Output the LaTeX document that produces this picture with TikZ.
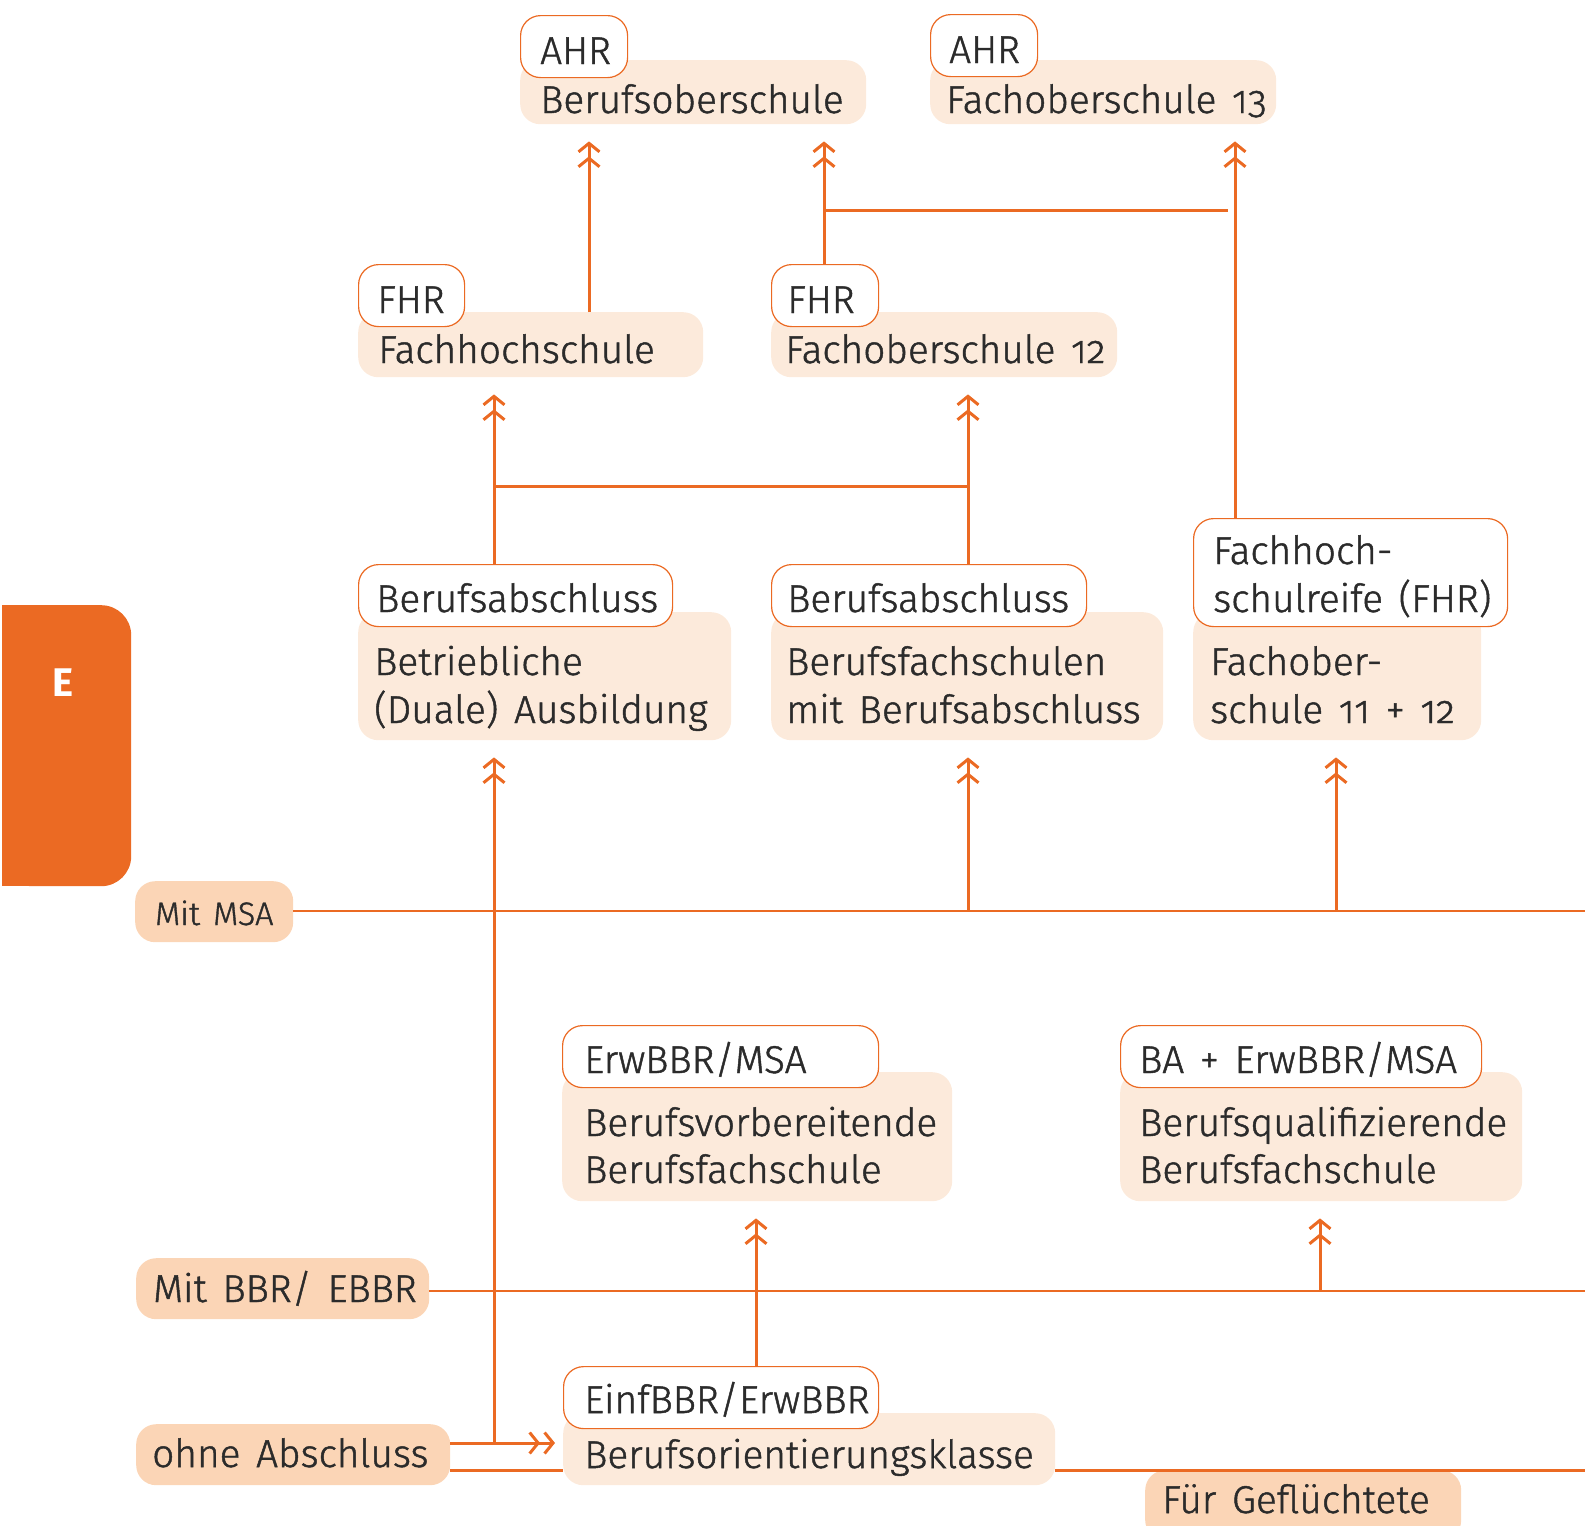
\documentclass[tikz,border=0pt]{standalone}
\usepackage{fontspec}
\IfFontExistsTF{Fira Sans Light}
  {\setmainfont{Fira Sans Light}[Numbers=OldStyle, WordSpace=1.45, FakeBold=1.2, BoldFont=Fira Sans Bold, BoldFeatures={FakeBold=0}]}
  {\setmainfont{Fira Sans}[Numbers=OldStyle, WordSpace=1.45]}
\usetikzlibrary{arrows.meta}
\definecolor{org}{HTML}{EB6A23}
\definecolor{peach}{HTML}{FCEADB}
\definecolor{lvl}{HTML}{FBD5B6}
\definecolor{ink}{HTML}{2B2B2B}
\tikzset{
  bgbox/.style={fill=peach, rounded corners=20pt, inner sep=0pt, anchor=north west},
  tagbox/.style={draw=org, line width=1.2pt, fill=white, rounded corners=20pt, inner sep=0pt, anchor=north west},
  lvlbox/.style={fill=lvl, rounded corners=20pt, inner sep=0pt, anchor=north west},
  txt/.style={anchor=base west, inner sep=0pt, text=ink, font=\fontsize{38.8}{46}\selectfont},
  smalltxt/.style={txt, font=\fontsize{32.5}{38}\selectfont},
  conn/.style={draw=org, line width=3pt},
  lvlline/.style={draw=org, line width=2.5pt},
  uparr/.style={conn, -{Straight Barb[length=8.5pt,width=21pt,sep=3pt]Straight Barb[length=8.5pt,width=21pt]}, shorten >=17pt},
  rtarr/.style={conn, -{Straight Barb[length=8.5pt,width=21pt,sep=3pt]Straight Barb[length=8.5pt,width=21pt]}, shorten >=8pt},
}
\begin{document}
\begin{tikzpicture}[x=1pt,y=-1pt]
\useasboundingbox (0,0) rectangle (1585,1526);

% E tab
\node[fill=org, rounded corners=30pt, inner sep=0pt, anchor=north west, minimum width=129pt, minimum height=281pt] (tab) at (2,605) {};
\fill[org] (2,605) rectangle (60,886);
\node[anchor=base, inner sep=0pt, text=white, font=\fontsize{40}{48}\selectfont\bfseries] (tabE) at (63,696) {E};

% ---- row 1
\node[bgbox, minimum width=346pt, minimum height=64pt] (b1) at (520,60) {};
\node[tagbox, minimum width=107pt, minimum height=62pt] (t1) at (520,15) {};
\node[txt] (t1x) at (540,64) {AHR};
\node[txt] (b1x) at (540,113) {Berufsoberschule};

\node[bgbox, minimum width=346pt, minimum height=64pt] (b2) at (930,60) {};
\node[tagbox, minimum width=107pt, minimum height=62pt] (t2) at (930,14) {};
\node[txt] (t2x) at (949,63) {AHR};
\node[txt] (b2x) at (946,113) {Fachoberschule 13};

% ---- row 2
\node[bgbox, minimum width=345pt, minimum height=65pt] (b3) at (358,312) {};
\node[tagbox, minimum width=106pt, minimum height=62pt] (t3) at (358,264) {};
\node[txt] (t3x) at (377,313) {FHR};
\node[txt] (b3x) at (378,363) {Fachhochschule};

\node[bgbox, minimum width=346pt, minimum height=65pt] (b4) at (771,312) {};
\node[tagbox, minimum width=107pt, minimum height=62pt] (t4) at (771,264) {};
\node[txt] (t4x) at (787,313) {FHR};
\node[txt] (b4x) at (785,363) {Fachoberschule 12};

% ---- row 3
\node[bgbox, minimum width=373pt, minimum height=128pt] (b5) at (358,612) {};
\node[tagbox, minimum width=314pt, minimum height=62pt] (t5) at (358,564) {};
\node[txt] (t5x) at (376,612) {Berufsabschluss};
\node[txt] (b5x) at (374,675) {Betriebliche};
\node[txt] (b5y) at (374,723) {(Duale) Ausbildung};

\node[bgbox, minimum width=392pt, minimum height=128pt] (b6) at (771,612) {};
\node[tagbox, minimum width=315pt, minimum height=62pt] (t6) at (771,564) {};
\node[txt] (t6x) at (787,612) {Berufsabschluss};
\node[txt] (b6x) at (786,675) {Berufsfachschulen};
\node[txt] (b6y) at (786,723) {mit Berufsabschluss};

\node[bgbox, minimum width=288pt, minimum height=128pt] (b7) at (1193,612) {};
\node[tagbox, minimum width=314pt, minimum height=108pt] (t7) at (1193,518) {};
\node[txt] (t7x) at (1213,564) {Fachhoch-};
\node[txt] (t7y) at (1213,612) {schulreife (FHR)};
\node[txt] (b7x) at (1210,675) {Fachober-};
\node[txt] (b7y) at (1210,723) {schule 11 + 12};

% ---- levels
\node[lvlbox, minimum width=158pt, minimum height=61pt] (l1) at (135,881) {};
\node[smalltxt] (l1x) at (155,925) {Mit MSA};
\node[lvlbox, minimum width=293pt, minimum height=61pt] (l2) at (136,1258) {};
\node[txt] (l2x) at (153,1302) {Mit BBR/ EBBR};
\node[lvlbox, minimum width=314pt, minimum height=61pt] (l3) at (136,1424) {};
\node[txt] (l3x) at (152,1467) {ohne Abschluss};

% ---- row 4
\node[bgbox, minimum width=390pt, minimum height=129pt] (b8) at (562,1072) {};
\node[tagbox, minimum width=316pt, minimum height=62pt] (t8) at (562,1025) {};
\node[txt] (t8x) at (584,1073) {ErwBBR/MSA};
\node[txt] (b8x) at (584,1136) {Berufsvorbereitende};
\node[txt] (b8y) at (584,1183) {Berufsfachschule};

\node[bgbox, minimum width=402pt, minimum height=129pt] (b9) at (1120,1072) {};
\node[tagbox, minimum width=361pt, minimum height=62pt] (t9) at (1120,1025) {};
\node[txt] (t9x) at (1139,1073) {BA + ErwBBR/MSA};
\node[txt] (b9x) at (1139,1136) {Berufsqualifizierende};
\node[txt] (b9y) at (1139,1183) {Berufsfachschule};

% ---- row 5
\node[bgbox, minimum width=492pt, minimum height=72pt] (b10) at (563,1413) {};
\node[tagbox, minimum width=315pt, minimum height=62pt] (t10) at (563,1366) {};
\node[txt] (t10x) at (584,1413) {EinfBBR/ErwBBR};
\node[txt] (b10x) at (584,1468) {Berufsorientierungsklasse};

\node[lvlbox, minimum width=316pt, minimum height=70pt] (l4) at (1145,1470) {};
\node[txt] (l4x) at (1162,1513) {Für Geflüchtete};

% ---- free ends / junctions
\coordinate (r1) at (1585,911);
\coordinate (r2) at (1585,1291);
\coordinate (r3) at (1585,1470);
\coordinate (j1) at (824,210);
\coordinate (j1e) at (1228,210);
\coordinate (j2) at (494,486);
\coordinate (j2e) at (968,486);

% level lines
\draw[lvlline] (l1.east |- r1) -- (r1);
\draw[lvlline] (l2.east |- r2) -- (r2);
\draw[conn] (l3.east |- r3) -- (b10.west |- r3);
\draw[conn] (b10.east |- r3) -- (r3);

% connectors top
\draw[uparr] (589,0 |- b3.north) -- (589,0 |- b1.south);
\draw[uparr] (824,0 |- t4.north) -- (824,0 |- b1.south);
\draw[uparr] (1235,0 |- t7.north) -- (1235,0 |- b2.south);
\draw[conn] (j1) -- (j1e);

\draw[uparr] (494,0 |- t5.north) -- (494,0 |- b3.south);
\draw[uparr] (968,0 |- t6.north) -- (968,0 |- b4.south);
\draw[conn] (j2) -- (j2e);

% from levels
\draw[uparr] (968,0 |- r1) -- (968,0 |- b6.south);
\draw[uparr] (1336,0 |- r1) -- (1336,0 |- b7.south);
\draw[uparr] (1320,0 |- r2) -- (1320,0 |- b9.south);
\draw[uparr] (756,0 |- t10.north) -- (756,0 |- b8.south);
\draw[conn, shorten <=-1.5pt] (494,1443) -- (494,0 |- r1);
\draw[uparr] (494,0 |- r1) -- (494,0 |- b5.south);
\draw[rtarr] (l3.east |- 0,1443) -- (b10.west |- 0,1443);
\end{tikzpicture}
\end{document}
